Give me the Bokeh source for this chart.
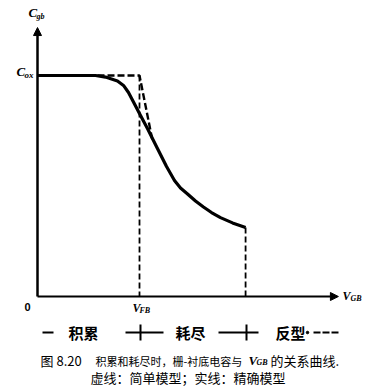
from bokeh.plotting import figure
from bokeh.models import Range1d, Arrow, NormalHead
from bokeh.core.properties import value
from bokeh.embed import file_html
from bokeh.resources import INLINE

# ---- data (V_GB in units of V_FB, C_gb in units of C_ox) ----
v_fb = 1.0
v_inv = 2.04
c_ox = 1.0
v_exact = [0.0, 0.569, 0.667, 0.784, 0.843, 0.892, 0.941, 1.01, 1.078, 1.176, 1.265,
           1.343, 1.402, 1.471, 1.549, 1.627, 1.706, 1.794, 1.912, 2.04]
c_exact = [1.0, 1.0, 0.993, 0.975, 0.955, 0.923, 0.88, 0.819, 0.76, 0.67, 0.588,
           0.525, 0.491, 0.464, 0.432, 0.405, 0.38, 0.357, 0.333, 0.312]
v_simple = [0.0, 1.0, 1.127]
c_simple = [1.0, 1.0, 0.706]
x_axis_end = 2.95
y_axis_end = 1.217

W, H = 375, 387
X0, Y0 = 37.0, 296.0   # pixel of origin
SX, SY = 102.0, 221.0  # pixels per unit

def dx(px):
    return (px - X0) / SX

def dy(py):
    return (Y0 - py) / SY

p = figure(width=W, height=H, output_backend="svg", toolbar_location=None,
           x_range=Range1d(dx(0), dx(W)), y_range=Range1d(dy(H), dy(0)),
           min_border=0, min_border_left=0, min_border_right=0,
           min_border_top=0, min_border_bottom=0)
p.axis.visible = False
p.grid.visible = False
p.outline_line_color = None
p.background_fill_color = "white"
p.border_fill_color = "white"

# axes with arrows
p.add_layout(Arrow(end=NormalHead(size=8, fill_color="black", line_color="black"),
                   x_start=0, y_start=0, x_end=x_axis_end, y_end=0,
                   line_width=2, line_color="black"))
p.add_layout(Arrow(end=NormalHead(size=8, fill_color="black", line_color="black"),
                   x_start=0, y_start=0, x_end=0, y_end=y_axis_end,
                   line_width=2.5, line_color="black"))

# exact model (solid)
p.line(v_exact, c_exact, line_width=3.2, line_color="black", line_join="round")
# simple model (dashed)
p.line(v_simple, c_simple, line_width=2.4, line_color="black", line_dash="7 3")
p.line([v_fb, v_fb], [c_ox, 0], line_width=1.8, line_color="black", line_dash="6 3")
p.line([v_inv, v_inv], [c_exact[-1], 0], line_width=1.8, line_color="black", line_dash="6 3")

def txt(px, py, s, size, style="bold italic", font="Liberation Serif",
        align="left", baseline="middle", color="black"):
    p.text(x=[dx(px)], y=[dy(py)], text=[s], text_font=value(font),
           text_font_size=f"{size}px", text_font_style=style,
           text_align=align, text_baseline=baseline, text_color=color)

# axis labels
txt(28, 12, "C", 13)
txt(36, 16, "gb", 8)
txt(16, 71, "C", 13)
txt(24, 74, "ox", 9)
txt(342, 295, "V", 12)
txt(350, 298, "GB", 8)
txt(27, 306, "0", 11, style="bold", font="Liberation Sans", align="center")
txt(132, 307, "V", 12)
txt(139, 310, "FB", 8)

# region bar
ry = 332
seg_x0 = [dx(42), dx(125), dx(218)]
seg_x1 = [dx(53), dx(163), dx(258)]
p.segment(x0=seg_x0, y0=[dy(ry)] * 3, x1=seg_x1, y1=[dy(ry)] * 3,
          line_width=2, line_color="black")
p.segment(x0=[dx(140), dx(246)], y0=[dy(324)] * 2, x1=[dx(140), dx(246)], y1=[dy(340)] * 2,
          line_width=2, line_color="black")
p.line([dx(313), dx(338)], [dy(ry), dy(ry)], line_width=2, line_color="black", line_dash="7 2")
p.scatter(x=[dx(307)], y=[dy(ry)], size=2.5, color="black")
txt(68, ry, "积累", 15, style="bold", font="Noto Sans CJK SC")
txt(175, ry, "耗尽", 15, style="bold", font="Noto Sans CJK SC")
txt(275, ry, "反型", 15, style="bold", font="Noto Sans CJK SC")

# caption
cy1, cy2 = 360, 377
txt(40, cy1, "图 8.20", 13, style="normal", font="Noto Sans CJK SC")
txt(95, cy1, "积累和耗尽时，栅-衬底电容与", 11, style="normal", font="Noto Sans CJK SC")
txt(248, cy1, "V", 13)
txt(256, cy1 + 2, "GB", 8)
txt(270, cy1, "的关系曲线.", 13, style="normal", font="Noto Sans CJK SC")
txt(90, cy2, "虚线：简单模型；实线：精确模型", 13, style="normal", font="Noto Sans CJK SC")

open("out.html", "w").write(file_html(p, INLINE))
